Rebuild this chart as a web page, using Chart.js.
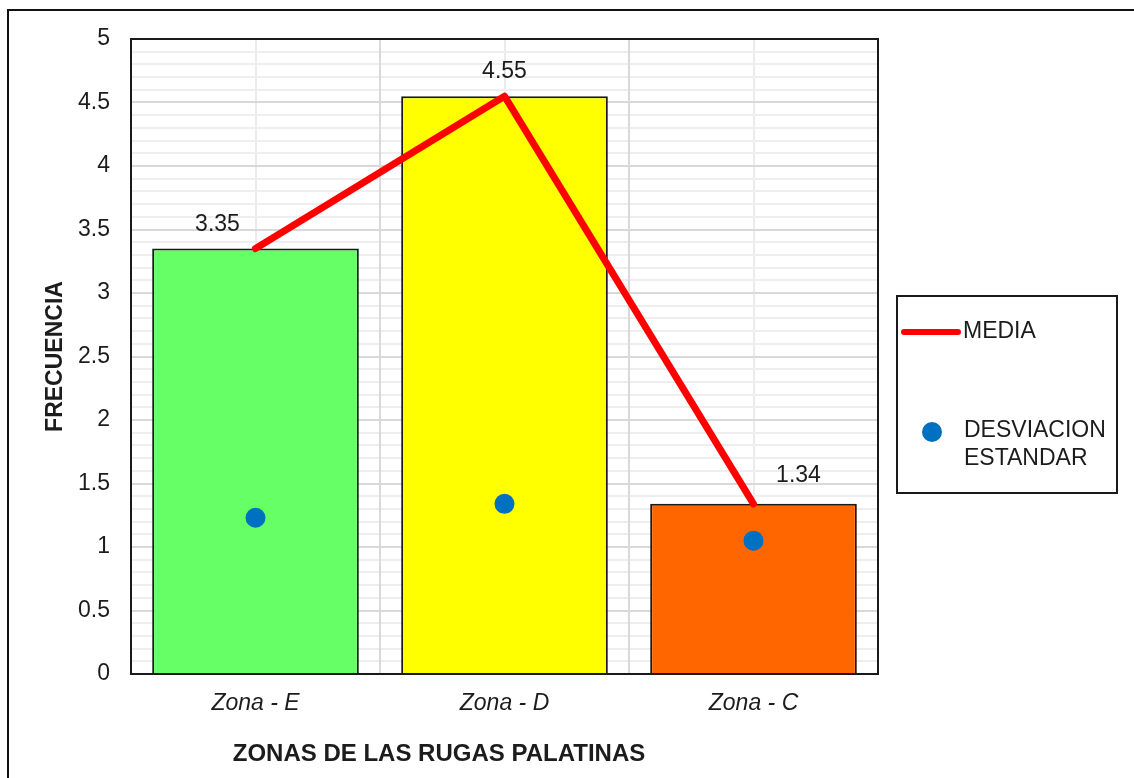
<!DOCTYPE html>
<html><head><meta charset="utf-8">
<script src="https://cdn.jsdelivr.net/npm/chart.js@4/dist/chart.umd.min.js"></script>
<style>html,body{margin:0;padding:0;background:#fff}</style>
</head><body>
<canvas id="c" width="1134" height="778"></canvas>
<script>
// ---- data ----
const categories = ['Zona - E', 'Zona - D', 'Zona - C'];
const mediaValues = [3.35, 4.55, 1.34];
const desviacionValues = [1.23, 1.34, 1.05];
const barColors = ['#66FF66', '#FFFF00', '#FF6600'];
const yTickLabels = ['0','0.5','1','1.5','2','2.5','3','3.5','4','4.5','5'];
const xTitle = 'ZONAS DE LAS RUGAS PALATINAS';
const yTitle = 'FRECUENCIA';

// ---- styling ----
const FONT = '"Liberation Sans", Arial, sans-serif';
const TEXT = '#1c1c1c';
const labelShift = [-38, 0, 45];

const frame = {
  id: 'frame',
  beforeDraw(chart) {
    const c = chart.ctx;
    c.save();
    c.fillStyle = '#fff';
    c.fillRect(0, 0, chart.width, chart.height);
    c.strokeStyle = '#111';
    c.lineWidth = 2;
    c.strokeRect(8, 10, chart.width + 20, chart.height + 20);
    c.restore();
  },
  beforeDatasetsDraw(chart) {
    const a = chart.chartArea, c = chart.ctx;
    c.save();
    c.strokeStyle = '#1a1a1a';
    c.lineWidth = 2;
    c.strokeRect(a.left, a.top, a.right - a.left, a.bottom - a.top);
    c.restore();
  },
  afterDatasetsDraw(chart) {
    const c = chart.ctx;
    const meta = chart.getDatasetMeta(0);
    c.save();
    c.font = '23px ' + FONT;
    c.fillStyle = TEXT;
    c.textAlign = 'center';
    c.textBaseline = 'middle';
    meta.data.forEach((pt, i) => {
      const v = chart.data.datasets[0].data[i];
      c.fillText(v.toFixed(2), pt.x + labelShift[i], pt.y - (i === 2 ? 28 : 24));
    });
    c.restore();
  },
  afterDraw(chart) {
    const c = chart.ctx;
    c.save();
    // x axis title
    c.font = 'bold 24px ' + FONT;
    c.fillStyle = TEXT;
    c.textAlign = 'center';
    c.textBaseline = 'middle';
    c.fillText(xTitle, 439, 754);
    // legend
    c.strokeStyle = '#1a1a1a';
    c.lineWidth = 2;
    c.strokeRect(897, 296, 220, 197);
    const ds0 = chart.data.datasets[0], ds1 = chart.data.datasets[1];
    c.strokeStyle = ds0.borderColor;
    c.lineWidth = 6;
    c.lineCap = 'round';
    c.beginPath(); c.moveTo(904, 332); c.lineTo(958, 332); c.stroke();
    c.font = '23px ' + FONT;
    c.fillStyle = TEXT;
    c.textAlign = 'left';
    c.fillText(ds0.label, 963, 332);
    c.fillStyle = ds1.pointBackgroundColor;
    c.beginPath(); c.arc(932, 432, 10, 0, Math.PI * 2); c.fill();
    c.fillStyle = TEXT;
    const parts = ds1.label.split(' ');
    c.fillText(parts[0], 964, 431);
    c.fillText(parts[1], 964, 459);
    c.restore();
  }
};

new Chart(document.getElementById('c'), {
  data: {
    labels: categories,
    datasets: [
      { type: 'line', label: 'MEDIA', data: mediaValues, borderColor: '#FF0000', borderWidth: 7,
        pointRadius: 0, pointHoverRadius: 0, borderCapStyle: 'round', borderJoinStyle: 'round',
        order: 1, xAxisID: 'x', yAxisID: 'y' },
      { type: 'line', label: 'DESVIACION ESTANDAR', data: desviacionValues, showLine: false,
        pointRadius: 10, pointHoverRadius: 10, pointBackgroundColor: '#0070C0', pointBorderWidth: 0,
        pointBorderColor: '#0070C0', order: 0, xAxisID: 'x', yAxisID: 'y' },
      { type: 'bar', label: 'FRECUENCIA', data: mediaValues, backgroundColor: barColors,
        borderColor: '#1a1a1a', borderWidth: 2, barPercentage: 0.83, categoryPercentage: 1,
        order: 2, xAxisID: 'x', yAxisID: 'y' }
    ]
  },
  options: {
    responsive: false,
    animation: false,
    events: [],
    devicePixelRatio: 1,
    layout: { padding: { left: 0, top: 39, right: 256, bottom: 0 } },
    plugins: { legend: { display: false }, tooltip: { enabled: false }, title: { display: false } },
    scales: {
      xc: {
        type: 'category', position: 'bottom', offset: true,
        grid: { offset: false, color: '#ebebeb', lineWidth: 2, drawTicks: false },
        border: { display: false }, ticks: { display: false },
        afterFit(s) { s.height = 0; }
      },
      yMinor: {
        type: 'linear', position: 'left', min: 0, max: 5,
        ticks: { display: false, stepSize: 0.1 },
        grid: { drawTicks: false, lineWidth: 2,
          color(ctx) {
            const v = ctx.tick ? ctx.tick.value : 0;
            return Math.abs(v * 2 - Math.round(v * 2)) < 1e-6 ? 'rgba(0,0,0,0)' : '#eeeeee';
          } },
        border: { display: false },
        afterFit(s) { s.width = 0; }
      },
      x: {
        type: 'category', position: 'bottom', offset: true,
        grid: { offset: true, color: '#d9d9d9', lineWidth: 2, drawTicks: false },
        border: { display: true, color: '#1a1a1a', width: 2 },
        ticks: { color: TEXT, padding: 16, font: { family: FONT, size: 23, style: 'italic' } },
        afterFit(s) { s.height = 104; }
      },
      y: {
        type: 'linear', position: 'left', min: 0, max: 5,
        ticks: { stepSize: 0.5, color: TEXT, padding: 21, font: { family: FONT, size: 23 },
          callback(v, i) { return yTickLabels[i]; } },
        grid: { color: '#d9d9d9', lineWidth: 2, drawTicks: false },
        border: { display: true, color: '#1a1a1a', width: 2 },
        title: { display: true, text: yTitle, color: TEXT, font: { family: FONT, size: 23, weight: 'bold' },
          padding: { top: 42, bottom: 0 } },
        afterFit(s) { s.width = 131; }
      }
    }
  },
  plugins: [frame]
});
</script>
</body></html>
